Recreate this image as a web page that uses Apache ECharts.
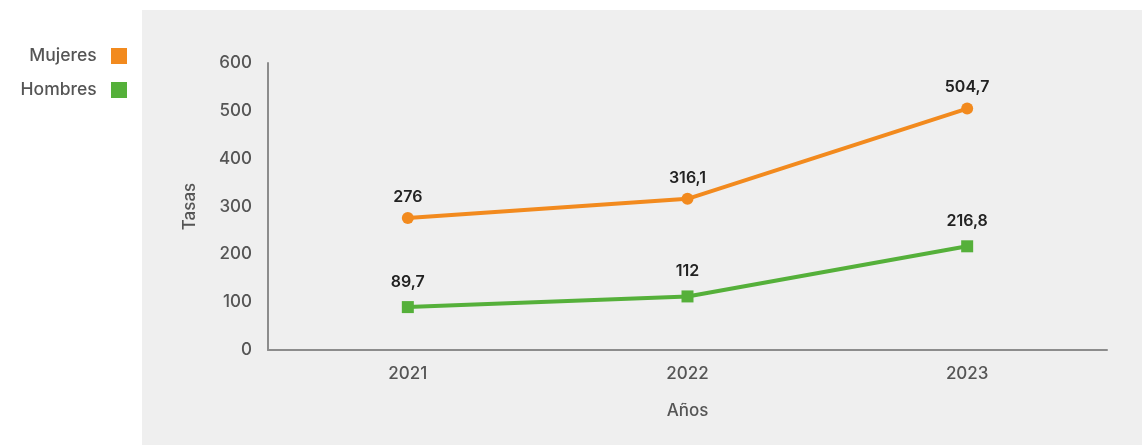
<!DOCTYPE html>
<html><head><meta charset="utf-8">
<script src="https://cdn.jsdelivr.net/npm/echarts@6/dist/echarts.min.js"></script>
<style>html,body{margin:0;padding:0;background:#fff}#c{width:1142px;height:445px}</style>
</head><body><div id="c"></div>
<script>
const categories = ['2021','2022','2023'];
const mujeres = [276, 316.1, 504.7];
const hombres = [89.7, 112, 216.8];
const yTicks = [0,100,200,300,400,500,600];

const font = 'Inter, "Open Sans", sans-serif';
const fmt = p => String(p.value).replace('.', ',');
const chart = echarts.init(document.getElementById('c'));
chart.setOption({
  backgroundColor: '#ffffff',
  textStyle: {fontFamily: font},
  graphic: [{type:'rect', z:-10, silent:true, shape:{x:142,y:10,width:1000,height:435}, style:{fill:'#efefef'}}],
  legend: {
    orient:'vertical', right: 1010, top: 42, align:'right', itemWidth:16, itemHeight:16, itemGap:16,
    formatter: n => n + '  ',
    textStyle:{fontSize:17.5, color:'#555', fontFamily:font, fontWeight:500},
    data:[{name:'Mujeres', icon:'rect'},{name:'Hombres', icon:'rect'}]
  },
  grid: {left:268, right:35, top:63, bottom:95},
  xAxis: {
    type:'category', data:categories, boundaryGap:true,
    name:'Años', nameLocation:'middle', nameGap:52,
    nameTextStyle:{fontSize:17, color:'#555', fontFamily:font, fontWeight:500},
    axisLine:{lineStyle:{color:'#8c8c8c', width:2}}, axisTick:{show:false},
    axisLabel:{fontSize:17, color:'#555', margin:15, fontFamily:font, fontWeight:500}
  },
  yAxis: {
    type:'value', min:0, max:600, interval:100,
    name:'Tasas', nameLocation:'middle', nameGap:70, nameRotate:90,
    nameTextStyle:{fontSize:17, color:'#555', fontFamily:font, fontWeight:500},
    axisLine:{show:true, lineStyle:{color:'#8c8c8c', width:2}}, axisTick:{show:false},
    splitLine:{show:false},
    axisLabel:{fontSize:17, color:'#555', margin:16, fontFamily:font, fontWeight:500,
      formatter: v => yTicks.includes(v) ? String(v) : ''}
  },
  series: [
    {name:'Mujeres', type:'line', data:mujeres, symbol:'circle', symbolSize:12,
     itemStyle:{color:'#F28A1E'}, lineStyle:{width:4, color:'#F28A1E'},
     label:{show:true, position:'top', distance:7, formatter:fmt, fontSize:16, fontWeight:600, color:'#222', fontFamily:font}},
    {name:'Hombres', type:'line', data:hombres, symbol:'rect', symbolSize:12,
     itemStyle:{color:'#55B03A'}, lineStyle:{width:4, color:'#55B03A'},
     label:{show:true, position:'top', distance:11, formatter:fmt, fontSize:16, fontWeight:600, color:'#222', fontFamily:font}}
  ]
});
</script></body></html>
